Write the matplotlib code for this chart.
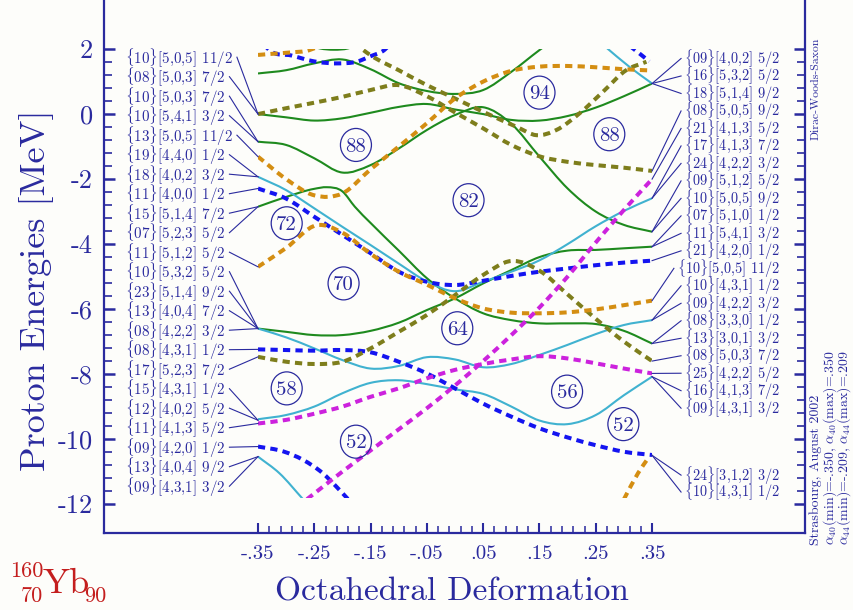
import numpy as np
import matplotlib.pyplot as plt
from matplotlib.patches import Ellipse, Rectangle, PathPatch
from matplotlib.path import Path

plt.rcParams['font.family'] = 'cmr10'
plt.rcParams['mathtext.fontset'] = 'cm'
plt.rcParams['axes.unicode_minus'] = False

# octahedral deformation mesh
alpha = [-0.35, -0.30, -0.25, -0.20, -0.15, -0.10, -0.05, 0.00,
         0.05, 0.10, 0.15, 0.20, 0.25, 0.30, 0.35]

# levels running over the whole mesh [MeV]
green_a = [0.00, -0.10, -0.20, -0.13, 0.04, 0.22, 0.31, 0.14, 0.00, -0.18, -0.20, -0.06, 0.20, 0.55, 0.94]
green_b = [-0.85, -0.95, -1.36, -1.80, -1.57, -1.06, -0.49, -0.03, 0.21, -0.30, -1.31, -2.29, -3.00, -3.41, -3.62]
green_c = [-6.60, -6.70, -6.80, -6.80, -6.67, -6.42, -6.03, -5.67, -5.21, -4.80, -4.40, -4.20, -4.18, -4.13, -4.08]
cyan_a = [-1.93, -2.34, -2.90, -3.47, -4.03, -4.60, -5.15, -5.45, -5.16, -4.85, -4.50, -4.00, -3.45, -2.98, -2.59]
cyan_b = [-6.60, -6.87, -7.21, -7.57, -7.83, -7.75, -7.48, -7.55, -7.79, -7.69, -7.41, -7.10, -6.77, -6.49, -6.34]
cyan_c = [-9.39, -9.26, -9.00, -8.59, -8.27, -8.19, -8.31, -8.47, -8.61, -9.00, -9.43, -9.54, -9.26, -8.65, -8.08]
blue_a = [-2.29, -2.60, -3.16, -3.72, -4.28, -4.85, -5.16, -5.26, -5.13, -4.98, -4.85, -4.75, -4.65, -4.57, -4.51]
blue_b = [-7.24, -7.26, -7.28, -7.26, -7.33, -7.62, -7.98, -8.44, -8.91, -9.31, -9.67, -9.95, -10.19, -10.39, -10.49]
olive_a = [0.00, 0.18, 0.35, 0.53, 0.74, 0.89, 0.55, 0.05, -0.44, -0.95, -1.30, -1.47, -1.57, -1.65, -1.75]
olive_c = [-7.47, -7.62, -7.69, -7.62, -7.21, -6.70, -6.18, -5.57, -4.95, -4.52, -4.82, -5.55, -6.30, -7.00, -7.60]
orange_a = [-1.31, -2.00, -2.50, -2.44, -1.70, -1.00, -0.28, 0.48, 1.00, 1.33, 1.46, 1.48, 1.44, 1.38, 1.34]
magenta_a = [-9.52, -9.41, -9.22, -9.00, -8.70, -8.44, -8.13, -7.87, -7.69, -7.55, -7.45, -7.52, -7.67, -7.83, -7.98]

# levels that leave the calculated window, with their own mesh
green_d_x = [-0.35, -0.30, -0.25, -0.228, -0.20, -0.178, -0.15, -0.10, -0.05, 0.00,
             0.05, 0.10, 0.15, 0.20, 0.25, 0.30, 0.35]
green_d = [-2.85, -2.55, -2.30, -2.25, -2.38, -2.85, -3.35, -4.20, -5.05, -5.67,
           -6.13, -6.34, -6.44, -6.44, -6.46, -6.67, -7.06]
green_e_x = [-0.35, -0.30, -0.25, -0.20, -0.15, -0.10, -0.05, 0.00, 0.05, 0.10, 0.15, 0.18]
green_e = [1.25, 1.35, 1.56, 1.68, 1.38, 0.95, 0.71, 0.62, 0.74, 1.30, 1.97, 2.35]
green_f_x = [-0.27, -0.24, -0.215, -0.19, -0.165]
green_f = [2.20, 2.02, 1.98, 2.02, 2.20]
cyan_d_x = [-0.35, -0.312, -0.27]
cyan_d = [-10.54, -11.05, -11.85]
cyan_e_x = [0.265, 0.31, 0.35]
cyan_e = [2.10, 1.45, 0.94]
blue_c_x = [-0.35, -0.305, -0.27, -0.235, -0.211, -0.19]
blue_c = [-10.23, -10.38, -10.64, -11.05, -11.46, -11.85]
blue_d_x = [-0.34, -0.33, -0.29, -0.25, -0.205, -0.175, -0.15, -0.125, -0.115]
blue_d = [2.15, 1.97, 1.80, 1.62, 1.56, 1.61, 1.78, 1.98, 2.15]
blue_e_x = [0.31, 0.325, 0.345]
blue_e = [2.10, 1.90, 1.62]
olive_b_x = [-0.18, -0.163, -0.15, -0.10, -0.05, 0.00, 0.05, 0.109, 0.145, 0.18, 0.221, 0.263, 0.304, 0.34]
olive_b = [2.20, 1.97, 1.81, 1.35, 0.89, 0.48, 0.07, -0.39, -0.65, -0.49, 0.02, 0.69, 1.35, 1.61]
orange_b_x = [-0.35, -0.30, -0.246, -0.20, -0.15, -0.10, -0.05, 0.00, 0.05, 0.10, 0.15, 0.20, 0.25, 0.30, 0.35]
orange_b = [-4.70, -4.12, -3.42, -3.65, -4.30, -4.85, -5.25, -5.67, -5.98, -6.11, -6.13, -6.10, -6.01, -5.88, -5.74]
orange_c_x = [-0.35, -0.32, -0.29, -0.26, -0.24]
orange_c = [1.82, 1.86, 1.90, 1.96, 2.10]
orange_d_x = [0.30, 0.325, 0.345]
orange_d = [-11.85, -11.05, -10.54]
magenta_b_x = [-0.263, -0.20, -0.15, -0.10, -0.05, 0.00, 0.05, 0.10, 0.15, 0.20, 0.25, 0.30, 0.35]
magenta_b = [-11.85, -11.00, -10.35, -9.70, -9.05, -8.35, -7.60, -6.80, -5.95, -5.00, -3.95, -2.95, -2.00]

# level labels {N}[N,nz,Lambda] Omega
left_names = ["{10}[5,0,5] 11/2", "{08}[5,0,3] 7/2", "{10}[5,0,3] 7/2", "{10}[5,4,1] 3/2",
              "{13}[5,0,5] 11/2", "{19}[4,4,0] 1/2", "{18}[4,0,2] 3/2", "{11}[4,0,0] 1/2",
              "{15}[5,1,4] 7/2", "{07}[5,2,3] 5/2", "{11}[5,1,2] 5/2", "{10}[5,3,2] 5/2",
              "{23}[5,1,4] 9/2", "{13}[4,0,4] 7/2", "{08}[4,2,2] 3/2", "{08}[4,3,1] 1/2",
              "{17}[5,2,3] 7/2", "{15}[4,3,1] 1/2", "{12}[4,0,2] 5/2", "{11}[4,1,3] 5/2",
              "{09}[4,2,0] 1/2", "{13}[4,0,4] 9/2", "{09}[4,3,1] 3/2"]
left_levels = [0.00, 0.00, -0.85, -0.85, -1.31, -1.93, -1.93, -2.29, -2.85, -2.85, -4.70,
               -6.60, -6.60, -6.60, -6.60, -7.24, -7.47, -9.42, -9.42, -9.52, -10.23, -10.54, -10.54]
right_names = ["{09}[4,0,2] 5/2", "{16}[5,3,2] 5/2", "{18}[5,1,4] 9/2", "{08}[5,0,5] 9/2",
               "{21}[4,1,3] 5/2", "{17}[4,1,3] 7/2", "{24}[4,2,2] 3/2", "{09}[5,1,2] 5/2",
               "{10}[5,0,5] 9/2", "{07}[5,1,0] 1/2", "{11}[5,4,1] 3/2", "{21}[4,2,0] 1/2",
               "{10}[5,0,5] 11/2", "{10}[4,3,1] 1/2", "{09}[4,2,2] 3/2", "{08}[3,3,0] 1/2",
               "{13}[3,0,1] 3/2", "{08}[5,0,3] 7/2", "{25}[4,2,2] 5/2", "{16}[4,1,3] 7/2",
               "{09}[4,3,1] 3/2", "{24}[3,1,2] 3/2", "{10}[4,3,1] 1/2"]
right_levels = [0.94, 0.94, 0.94, -1.75, -2.00, -2.59, -2.59, -3.62, -3.62, -4.08, -4.08,
                -4.51, -5.74, -6.34, -6.34, -7.06, -7.06, -7.60, -7.98, -8.08, -8.08, -10.50, -10.50]

# shell gaps
gap_numbers = ["94", "88", "82", "88", "72", "70", "64", "58", "56", "52", "52"]
gap_alpha = [0.150, -0.176, 0.024, 0.274, -0.299, -0.198, 0.004, -0.299, 0.199, -0.176, 0.299]
gap_energy = [0.66, -0.95, -2.65, -0.62, -3.36, -5.21, -6.59, -8.44, -8.54, -10.08, -9.54]

ink = '#2a2a9e'
c_green = '#1e8a1e'
c_cyan = '#40b2d0'
c_blue = '#1414f0'
c_olive = '#7e7e1c'
c_orange = '#d48e12'
c_magenta = '#cc22dd'

W, H = 854, 610
fig = plt.figure(figsize=(W / 100, H / 100), dpi=100, facecolor='#fdfdfa')
ax = fig.add_axes([104 / W, 1 - 533 / H, (805 - 104) / W, 533 / H])
ax.set_facecolor('#fdfdfa')
ax.set_xlim(-0.6235, 0.6216)
ax.set_ylim(-12.89, 3.51)

window = Rectangle((-0.35, -11.8), 0.70, 13.8, transform=ax.transData)


def level_path(xs, es):
    # cubic Hermite pieces through the read points, slopes from np.gradient
    x = np.asarray(xs, float)
    y = np.asarray(es, float)
    m = np.gradient(y, x)
    verts = [(x[0], y[0])]
    codes = [Path.MOVETO]
    for i in range(len(x) - 1):
        h = x[i + 1] - x[i]
        verts += [(x[i] + h / 3, y[i] + m[i] * h / 3),
                  (x[i + 1] - h / 3, y[i + 1] - m[i + 1] * h / 3),
                  (x[i + 1], y[i + 1])]
        codes += [Path.CURVE4] * 3
    return Path(verts, codes)


solid = dict(lw=1.5, linestyle='-', joinstyle='round')
dashed = dict(lw=2.9, linestyle=(0, (1.8, 1.3)), capstyle='butt')
curves = [
    (alpha, green_a, c_green, solid), (alpha, green_b, c_green, solid),
    (alpha, green_c, c_green, solid), (green_d_x, green_d, c_green, solid),
    (green_e_x, green_e, c_green, solid), (green_f_x, green_f, c_green, solid),
    (alpha, cyan_a, c_cyan, solid), (alpha, cyan_b, c_cyan, solid),
    (alpha, cyan_c, c_cyan, solid), (cyan_d_x, cyan_d, c_cyan, solid),
    (cyan_e_x, cyan_e, c_cyan, solid),
    (alpha, blue_a, c_blue, dashed), (alpha, blue_b, c_blue, dashed),
    (blue_c_x, blue_c, c_blue, dashed), (blue_d_x, blue_d, c_blue, dashed),
    (blue_e_x, blue_e, c_blue, dashed),
    (alpha, olive_a, c_olive, dashed), (olive_b_x, olive_b, c_olive, dashed),
    (alpha, olive_c, c_olive, dashed),
    (alpha, orange_a, c_orange, dashed), (orange_b_x, orange_b, c_orange, dashed),
    (orange_c_x, orange_c, c_orange, dashed), (orange_d_x, orange_d, c_orange, dashed),
    (alpha, magenta_a, c_magenta, dashed), (magenta_b_x, magenta_b, c_magenta, dashed),
]
for xs, es, col, style in curves:
    patch = ax.add_patch(PathPatch(level_path(xs, es), fill=False, edgecolor=col, **style))
    patch.set_clip_path(window)

for num, gx, ge in zip(gap_numbers, gap_alpha, gap_energy):
    ax.add_patch(Ellipse((gx, ge), 31 / 563, 33 / 32.5, fill=False, ec=ink, lw=0.9))
    ax.text(gx, ge - 0.05, num, ha='center', va='center', fontsize=15, color=ink)


def tex(name):
    return name.replace('{', r'$\{$').replace('}', r'$\}$')


left_rows = 1.75 - 0.6 * np.arange(len(left_names))
right_rows = np.r_[1.71 - 0.538 * np.arange(21), -11.11, -11.63]
left_txt = [ax.text(-0.586, y, tex(n), ha='left', va='center', fontsize=10.8, color=ink)
            for n, y in zip(left_names, left_rows)]
right_txt = [ax.text(0.577, y, tex(n), ha='right', va='center', fontsize=10.3, color=ink)
             for n, y in zip(right_names, right_rows)]

# axes, ticks
for side in ['left', 'right', 'bottom']:
    ax.spines[side].set_color(ink)
    ax.spines[side].set_linewidth(1.6)
ax.spines['top'].set_visible(False)
ax.set_xticks([-0.35, -0.25, -0.15, -0.05, 0.05, 0.15, 0.25, 0.35],
              ["-.35", "-.25", "-.15", "-.05", ".05", ".15", ".25", ".35"])
ax.set_xticks(np.arange(-0.35, 0.351, 0.02), minor=True)
ax.set_yticks([-12, -10, -8, -6, -4, -2, 0, 2],
              ["-12", "-10", "-8", "-6", "-4", "-2", "0", "2"])
ax.set_yticks(np.arange(-12, 2.01, 0.4), minor=True)
ax.tick_params(which='both', direction='in', colors=ink, top=False, right=True,
               labelright=False)
ax.tick_params(axis='x', which='major', length=7, width=1.5, labelsize=15, pad=9)
ax.tick_params(axis='x', which='minor', length=5, width=1.1)
ax.tick_params(axis='y', which='major', length=8, width=1.8, labelsize=19, pad=8)
ax.tick_params(axis='y', which='minor', length=5.5, width=1.2)

fig.text(37 / W, 1 - 290 / H, 'Proton Energies [MeV]', rotation=90, ha='center',
         va='center', fontsize=26, color=ink)
fig.text(452 / W, 1 - 592 / H, 'Octahedral Deformation', ha='center', va='center',
         fontsize=24, color=ink)

red = '#c41e1e'
fig.text(43 / W, 1 - 577 / H, '160', ha='right', va='baseline', fontsize=16, color=red)
fig.text(43 / W, 1 - 602 / H, '70', ha='right', va='baseline', fontsize=16, color=red)
fig.text(43 / W, 1 - 593 / H, 'Yb', ha='left', va='baseline', fontsize=26, color=red)
fig.text(84 / W, 1 - 602 / H, '90', ha='left', va='baseline', fontsize=16, color=red)

fig.text(816 / W, 1 - 38 / H, 'Dirac-Woods-Saxon', rotation=90, ha='center', va='top',
         fontsize=8.5, color=ink)
fig.text(816 / W, 1 - 545 / H, 'Strasbourg, August 2002', rotation=90, ha='center',
         va='bottom', fontsize=10, color=ink)
fig.text(830 / W, 1 - 545 / H, r'$\alpha_{40}$(min)=-.350, $\alpha_{40}$(max)=.350',
         rotation=90, ha='center', va='bottom', fontsize=10, color=ink)
fig.text(844 / W, 1 - 545 / H, r'$\alpha_{44}$(min)=-.209, $\alpha_{44}$(max)=.209',
         rotation=90, ha='center', va='bottom', fontsize=10, color=ink)

# connector lines from labels to the level ends
fig.canvas.draw()
renderer = fig.canvas.get_renderer()
to_data = ax.transData.inverted()
for t, y, lev in zip(left_txt, left_rows, left_levels):
    bb = t.get_window_extent(renderer)
    x0 = to_data.transform((bb.x1 + 4, 0))[0]
    ax.plot([x0, -0.35], [y, lev], color=ink, lw=0.8)
for t, y, lev in zip(right_txt, right_rows, right_levels):
    bb = t.get_window_extent(renderer)
    x0 = to_data.transform((bb.x0 - 3, 0))[0]
    ax.plot([0.35, x0], [lev, y], color=ink, lw=0.8)

fig.savefig('out.png', dpi=100, facecolor=fig.get_facecolor())
